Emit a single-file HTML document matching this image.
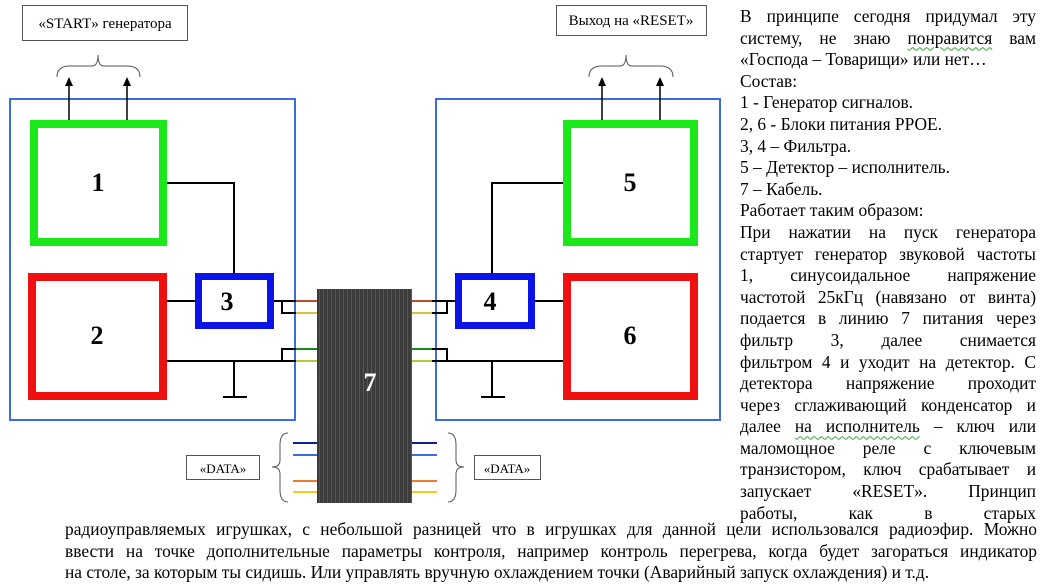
<!DOCTYPE html>
<html><head><meta charset="utf-8"><style>
body{margin:0;width:1042px;height:586px;background:#fff;position:relative;overflow:hidden;font-family:"Liberation Serif","Noto Serif CJK SC",serif;}
.t{position:absolute;font-size:17.4px;line-height:21.6px;color:#000;white-space:nowrap;}
.j{text-align:justify;text-align-last:justify;white-space:normal;}
.w{text-decoration:underline wavy #3a3;text-decoration-thickness:1px;text-underline-offset:3px}
</style></head><body>
<svg width="1042" height="586" style="position:absolute;left:0;top:0">
<defs><pattern id="st" width="4" height="10" patternUnits="userSpaceOnUse"><rect width="4" height="10" fill="#3c3c3c"/><rect x="3" width="1" height="10" fill="#555"/></pattern></defs>
<g fill="none">
<rect x="10" y="99" width="285" height="321" stroke="#3a6ee0" stroke-width="2"/>
<rect x="436" y="99" width="284" height="321" stroke="#3a6ee0" stroke-width="2"/>
<rect x="34" y="124" width="129" height="118" stroke="#1be81b" stroke-width="8"/>
<rect x="32" y="277" width="131" height="119" stroke="#f01010" stroke-width="8"/>
<rect x="567" y="124" width="127" height="118" stroke="#1be81b" stroke-width="8"/>
<rect x="567" y="277" width="127" height="119" stroke="#f01010" stroke-width="8"/>
<rect x="198.5" y="276.5" width="72" height="49" stroke="#0a14e8" stroke-width="7"/>
<rect x="458.5" y="276.5" width="73" height="49" stroke="#0a14e8" stroke-width="7"/>
<g stroke="#000" stroke-width="2">
<path d="M167 183H234V273M167 301H195M167 361H296M234 361V397M223 397H247"/>
<path d="M274 301H296M282 301V313H296M282 361V349H296"/>
<path d="M563 183H492V273M535 301H563M563 361H432M492 361V397M481 397H505"/>
<path d="M432 301H455M447 301V313H432M447 361V349H432"/>
<path d="M69 120V84M127 120V84M602 120V84M660 120V84" stroke-width="1.5"/>
</g>
<g fill="#000" stroke="none">
<path d="M65 86L69 77L73 86z"/><path d="M123 86L127 77L131 86z"/>
<path d="M598 86L602 77L606 86z"/><path d="M656 86L660 77L664 86z"/>
</g>
<g stroke-width="2">
<path d="M296 301H317M412 301H432" stroke="#b5522a"/>
<path d="M296 313H317M412 313H432" stroke="#d8c040"/>
<path d="M296 349H317M412 349H432" stroke="#1a8a1a"/>
<path d="M296 361H317M412 361H432" stroke="#b8c83a"/>
<path d="M293 443H317M412 443H437" stroke="#10208a"/>
<path d="M293 455H317M412 455H437" stroke="#3a6ee0"/>
<path d="M293 481H317M412 481H437" stroke="#f07a30"/>
<path d="M293 492H317M412 492H437" stroke="#f8c820"/>
</g>
<rect x="317" y="289" width="95" height="214" fill="url(#st)"/>
<g stroke="#555" stroke-width="1">
<rect x="22.5" y="5.5" width="165" height="35"/>
<rect x="556.5" y="5.5" width="150" height="30"/>
<rect x="186.5" y="455.5" width="73" height="24"/>
<rect x="474.5" y="455.5" width="66" height="24"/>
<path d="M57 77Q57 66 70 66H92Q98 66 98 55Q98 66 104 66H127Q140 66 140 77"/>
<path d="M589 77Q589 66 602 66H620Q626 66 626 55Q626 66 632 66H660Q673 66 673 77"/>
<path d="M288 433Q280 433 280 445V460Q280 467 272 467Q280 467 280 474V490Q280 502 288 502"/>
<path d="M448 433Q456 433 456 445V460Q456 467 464 467Q456 467 456 474V490Q456 502 448 502"/>
</g>
</g>
<g font-family="Liberation Serif,serif" font-weight="bold" font-size="26" text-anchor="middle">
<text x="98" y="191">1</text><text x="97" y="344">2</text><text x="227" y="310">3</text>
<text x="490" y="310">4</text><text x="630" y="191">5</text><text x="630" y="344">6</text>
<text x="370" y="391" fill="#fff">7</text>
</g>
<g font-family="Liberation Serif,serif" font-size="15" text-anchor="middle">
<text x="105" y="28">«START» генератора</text>
<text x="631" y="25">Выход на «RESET»</text>
<text x="223" y="473" font-size="13">«DATA»</text>
<text x="507" y="473" font-size="13">«DATA»</text>
</g>
</svg>
<div class="t" style="left:740px;top:6px;width:296px">
<div class="j">В принципе сегодня придумал эту</div>
<div class="j">систему, не знаю <span class="w">понравится</span> вам</div>
<div>«Господа – Товарищи» или нет…</div>
<div>Состав:</div>
<div>1 - Генератор сигналов.</div>
<div>2, 6 - Блоки питания РРОЕ.</div>
<div>3, 4 – Фильтра.</div>
<div>5 – Детектор – исполнитель.</div>
<div>7 – Кабель.</div>
<div>Работает таким образом:</div>
<div class="j">При нажатии на пуск генератора</div>
<div class="j">стартует генератор звуковой частоты</div>
<div class="j">1, синусоидальное напряжение</div>
<div class="j">частотой 25кГц (навязано от винта)</div>
<div class="j">подается в линию 7 питания через</div>
<div class="j">фильтр 3, далее снимается</div>
<div class="j">фильтром 4 и уходит на детектор. С</div>
<div class="j">детектора напряжение проходит</div>
<div class="j">через сглаживающий конденсатор и</div>
<div class="j">далее <span class="w">на исполнитель</span> – ключ или</div>
<div class="j">маломощное реле с ключевым</div>
<div class="j">транзистором, ключ срабатывает и</div>
<div class="j">запускает «RESET». Принцип</div>
<div class="j">работы, как в старых</div>
</div>
<div class="t" style="left:65px;top:519px;width:972px">
<div class="j">радиоуправляемых игрушках, с небольшой разницей что в игрушках для данной цели использовался радиоэфир. Можно</div>
<div class="j">ввести на точке дополнительные параметры контроля, например контроль перегрева, когда будет загораться индикатор</div>
<div>на столе, за которым ты сидишь. Или управлять вручную охлаждением точки (Аварийный запуск охлаждения) и т.д.</div>
</div>
</body></html>
